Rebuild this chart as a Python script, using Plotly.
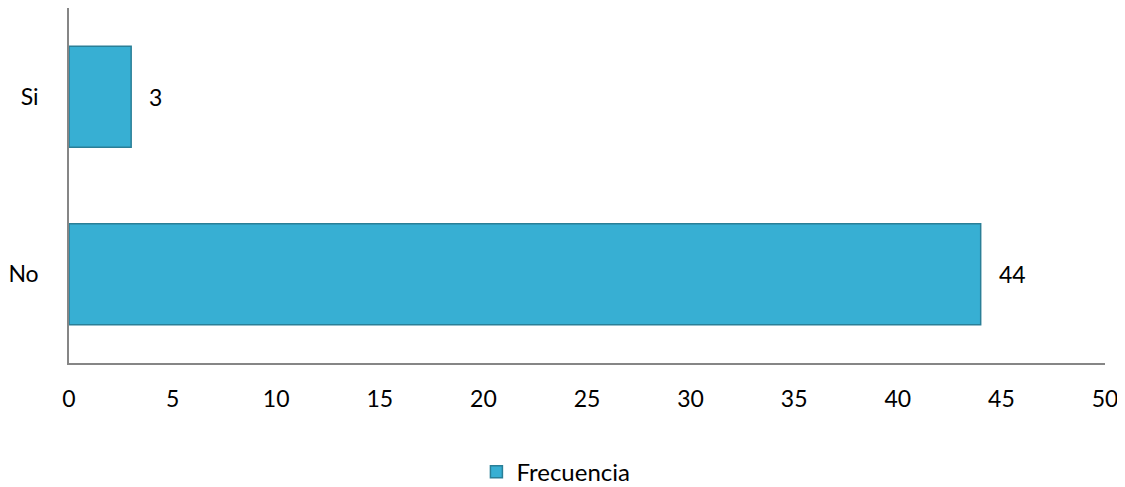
import plotly.graph_objects as go

categories = ["No", "Si"]
frecuencia = [44, 3]
x_ticks = [0, 5, 10, 15, 20, 25, 30, 35, 40, 45, 50]
series_name = "Frecuencia"

FONT = "Lato"
fig = go.Figure()
fig.add_trace(go.Bar(
    y=categories, x=frecuencia, orientation="h", name=series_name,
    marker=dict(color="#37afd3", line=dict(color="#2a7f97", width=1.5)),
    showlegend=True,
))
for c, v in zip(categories, frecuencia):
    fig.add_annotation(x=v, y=c, text=str(v), showarrow=False, xanchor="left",
                       xshift=16, font=dict(family=FONT, size=23, color="#000000"))

fig.update_layout(
    width=1117, height=479,
    margin=dict(l=55, r=20, t=0, b=124),
    paper_bgcolor="white", plot_bgcolor="white",
    bargap=0.43,
    font=dict(family=FONT, size=23, color="#000000"),
    xaxis=dict(range=[0, 50], tickvals=x_ticks, showgrid=False, zeroline=False,
               showline=True, linecolor="#868686", linewidth=1.5,
               ticks="", ticklabelstandoff=15),
    yaxis=dict(categoryorder="array", categoryarray=categories, showgrid=False,
               zeroline=False, showline=True, linecolor="#868686", linewidth=1.5,
               ticks="", ticklabelstandoff=24, range=[-0.5, 1.5]),
    legend=dict(orientation="h", x=0.47, xanchor="center",
                yref="container", y=0.031, yanchor="middle",
                font=dict(family=FONT, size=24), itemwidth=30),
)
fig.write_html("out.html")
